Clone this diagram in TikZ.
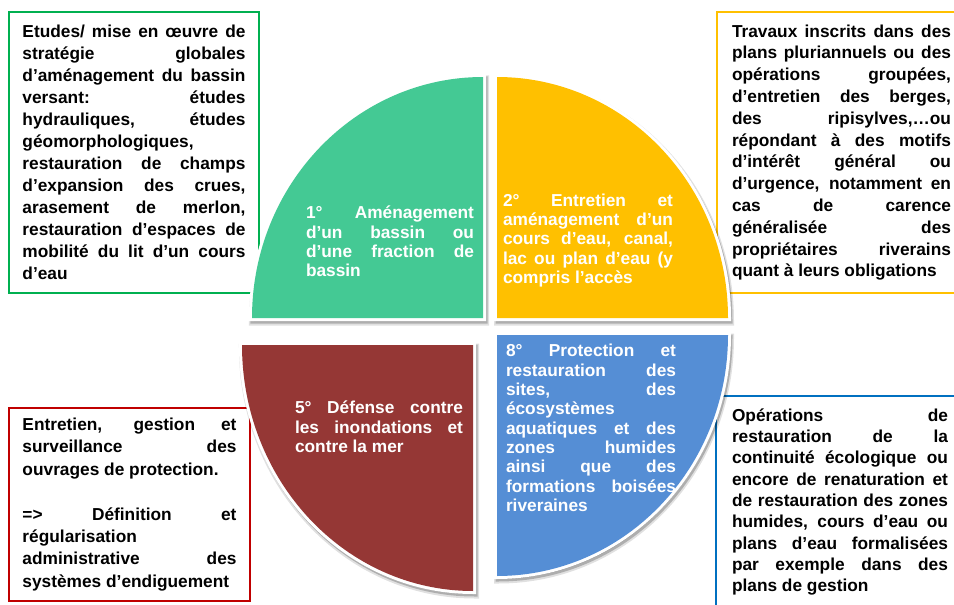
\documentclass[tikz,border=0pt]{standalone}
\usepackage{fontspec}
\setmainfont{Liberation Sans}

\definecolor{sectgreen}{HTML}{44C994}
\definecolor{sectyellow}{HTML}{FFC000}
\definecolor{sectred}{HTML}{953735}
\definecolor{sectblue}{HTML}{558ED5}
\definecolor{edgegreen}{HTML}{00B050}
\definecolor{edgeyellow}{HTML}{FFC000}
\definecolor{edgered}{HTML}{C00000}
\definecolor{edgeblue}{HTML}{0070C0}

% justified bold text, no hyphenation, lines broken by hand
\newcommand\parafont[2]{\fontsize{#1pt}{#2pt}\selectfont\bfseries
  \parindent=0pt\tolerance=10000\hbadness=10000
  \hyphenpenalty=10000\exhyphenpenalty=10000}

\begin{document}
\begin{tikzpicture}[x=1pt,y=-1pt,
  note/.style={draw=#1, line width=1.5pt, fill=white, align=justify,
    inner xsep=13.5pt, inner ysep=0pt, text=black},
  sectortext/.style={text=white, align=justify, inner sep=0pt,
    font={\parafont{17.3}{19.3}}},
  sector/.style={fill=#1,
    preaction={fill=black, draw=black, line width=9pt, opacity=.12,
      transform canvas={shift={(1.5pt,-3pt)}}},
    preaction={fill=black, draw=black, line width=6pt, opacity=.22,
      transform canvas={shift={(1.5pt,-2.5pt)}}},
    preaction={draw=white, line width=6pt}}]

\clip (0,0) rectangle (954,605);
\fill[white] (0,0) rectangle (954,605);

% ---- explanatory boxes ----
\node[note=edgegreen, text width=223pt, minimum height=281pt,
  font={\parafont{17.3}{22}}] (etudes) at (134,152.5)
 {Etudes/ mise en œuvre de\linebreak stratégie globales\linebreak
  d’aménagement du bassin\linebreak versant: études\linebreak
  hydrauliques, études\linebreak géomorphologiques,\linebreak
  restauration de champs\linebreak d’expansion des crues,\linebreak
  arasement de merlon,\linebreak restauration d’espaces de\linebreak
  mobilité du lit d’un cours\linebreak d’eau};

\node[note=edgeyellow, text width=219pt, inner xsep=15pt, minimum height=281pt,
  font={\parafont{17.3}{21.8}}] (travaux) at (841.5,152.5)
 {Travaux inscrits dans des\linebreak plans pluriannuels ou des\linebreak
  opérations groupées,\linebreak d’entretien des berges,\linebreak
  des ripisylves,…ou\linebreak répondant à des motifs\linebreak
  d’intérêt général ou\linebreak d’urgence, notamment en\linebreak
  cas de carence\linebreak généralisée des\linebreak
  propriétaires riverains\linebreak quant à leurs obligations};

\node[note=edgered, text width=214pt, minimum height=193pt,
  font={\parafont{17.3}{22.4}}] (entretien) at (129.5,504.5)
 {Entretien, gestion et\linebreak surveillance des\linebreak
  ouvrages de protection.\par\vspace{22.4pt}
  =>\ Définition et\linebreak régularisation\linebreak
  administrative des\linebreak systèmes d’endiguement};

\node[note=edgeblue, text width=216pt, inner xsep=16pt, minimum height=212pt,
  font={\parafont{17.3}{21.3}}] (operations) at (840,502)
 {Opérations de\linebreak restauration de la\linebreak
  continuité écologique ou\linebreak encore de renaturation et\linebreak
  de restauration des zones\linebreak humides, cours d’eau ou\linebreak
  plans d’eau formalisées\linebreak par exemple dans des\linebreak
  plans de gestion};

% ---- the four quarters of the disc ----
\path[sector=sectgreen] (483,318) -- (252,318)
  arc[start angle=180, end angle=270, x radius=231, y radius=241] -- cycle;
\path[sector=sectyellow] (497,318) -- (728,318)
  arc[start angle=0, end angle=-90, x radius=231, y radius=241] -- cycle;
\path[sector=sectred] (473,345) -- (242,345)
  arc[start angle=180, end angle=90, x radius=231, y radius=246] -- cycle;
\path[sector=sectblue] (497,335) -- (728,335)
  arc[start angle=0, end angle=90, x radius=231, y radius=241] -- cycle;

% ---- quarter labels ----
\node[sectortext, text width=168pt] (q1) at (390,241.5)
 {1° Aménagement\linebreak d’un bassin ou\linebreak
  d’une fraction de\linebreak bassin};
\node[sectortext, text width=170pt] (q2) at (588,240.5)
 {2° Entretien et\linebreak aménagement d’un\linebreak
  cours d’eau, canal,\linebreak lac ou plan d’eau (y\linebreak
  compris l’accès};
\node[sectortext, text width=168pt] (q5) at (379,427)
 {5° Défense contre\linebreak les inondations et\linebreak contre la mer};
\node[sectortext, text width=170pt] (q8) at (591,428)
 {8° Protection et\linebreak restauration des\linebreak
  sites, des\linebreak écosystèmes\linebreak
  aquatiques et des\linebreak zones humides\linebreak
  ainsi que des\linebreak formations boisées\linebreak riveraines};
\end{tikzpicture}
\end{document}
